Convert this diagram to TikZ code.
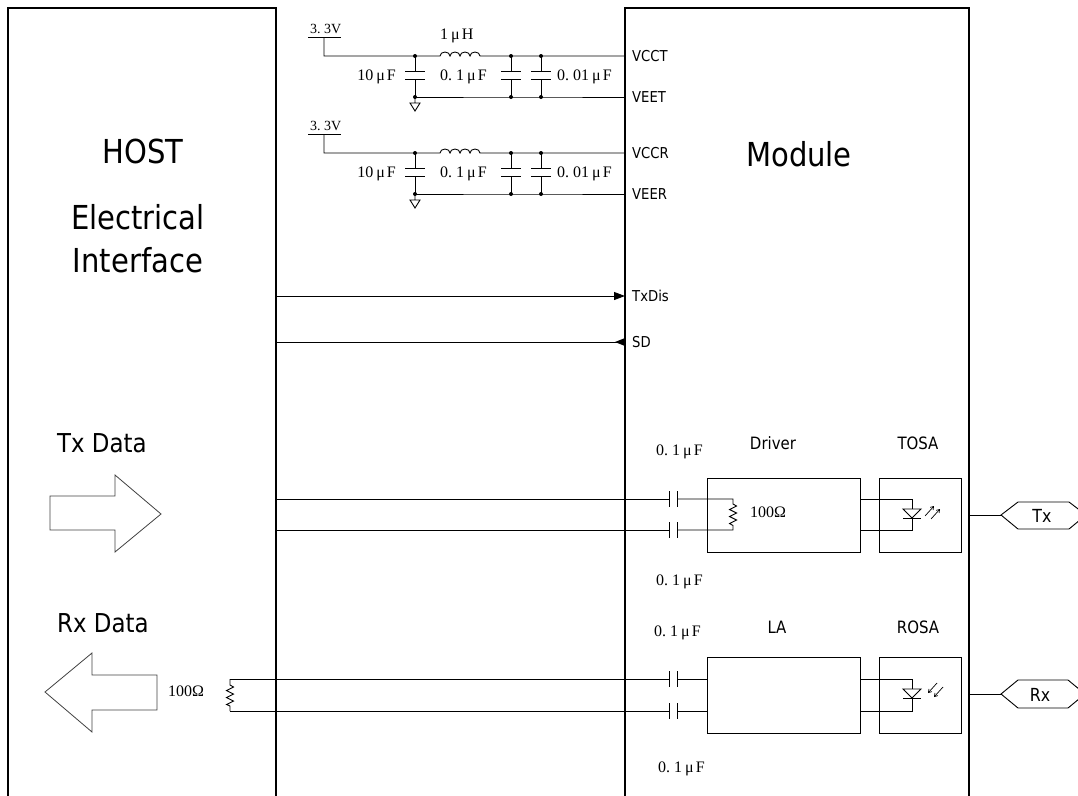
\documentclass[tikz,border=0pt]{standalone}
\usepackage{fontspec}
\setmainfont{Liberation Serif}
\newfontfamily\tah{DejaVu Sans}[FakeStretch=0.88]
\usetikzlibrary{arrows.meta}
\tikzset{
  box/.style={line width=2pt},
  wire/.style={line width=0.9pt},
  dot/.style={circle,fill,inner sep=0pt,minimum size=4pt},
  bigtxt/.style={font=\tah\fontsize{33}{36}\selectfont, anchor=base, inner sep=0pt},
  midtxt/.style={font=\tah\fontsize{26}{30}\selectfont, anchor=base west, inner sep=0pt},
  pintxt/.style={font=\tah\fontsize{15}{18}\selectfont, anchor=west, inner sep=0pt},
  blktxt/.style={font=\tah\fontsize{17}{20}\selectfont, anchor=base, inner sep=0pt},
  hextxt/.style={font=\tah\fontsize{18}{20}\selectfont, inner sep=0pt},
  val/.style={font=\fontsize{16}{18}\selectfont, anchor=base west, inner sep=0pt},
  fatarrow/.style={line width=0.8pt, draw=black!75},
  blockbox/.style={draw, line width=0.9pt, inner sep=0pt, anchor=north west},
  emit/.style={line width=0.7pt, -{Straight Barb[length=3pt,width=4pt]}},
}
\newcommand\micro{\hspace{3pt}μ\hspace{2pt}}
\newcommand\filterstage[2]{%
  \begin{scope}[yshift=#2]
  \node[val,font=\fontsize{14}{16}\selectfont] (v33#1) at (310,33) {3.~3V};
  \coordinate (ul#1) at (308,37); \coordinate (ur#1) at (341,37);
  \coordinate (vs#1) at (324,37); \coordinate (n1#1) at (324,56);
  \node[dot] (d1#1) at (415,56) {};
  \coordinate (l1#1) at (440,56); \coordinate (l2#1) at (480,56);
  \node[dot] (d2#1) at (511,56) {};
  \node[dot] (d3#1) at (541,56) {};
  \coordinate (vcc#1) at (625,56);
  \node[dot] (g1#1) at (415,97) {};
  \node[dot] (g2#1) at (511,97) {};
  \node[dot] (g3#1) at (541,97) {};
  \coordinate (vee#1) at (625,97);
  \draw[wire] (ul#1) -- (ur#1);
  \draw[wire] (vs#1) -- (n1#1) -- (d1#1.center) -- (l1#1)
     arc[start angle=180,end angle=0,x radius=5pt,y radius=4pt]
     arc[start angle=180,end angle=0,x radius=5pt,y radius=4pt]
     arc[start angle=180,end angle=0,x radius=5pt,y radius=4pt]
     arc[start angle=180,end angle=0,x radius=5pt,y radius=4pt]
     -- (d2#1.center) -- (d3#1.center) -- (vcc#1);
  \draw[wire] (g1#1.center) -- (g2#1.center) -- (g3#1.center) -- (vee#1);
  \foreach \c/\g in {d1#1/g1#1, d2#1/g2#1, d3#1/g3#1}{
    \draw[wire] (\c.center) -- ++(0,15) ++(-10,0) -- ++(20,0)
                ++(-20,8) -- ++(20,0) ++(-10,0) -- (\g.center);
  }
  \draw[wire] (g1#1.center) -- ++(0,6) ++(-5,0) -- ++(10,0) -- ++(-5,8) -- cycle;
  \node[val,anchor=base east] (c10#1) at (396,80) {10\micro F};
  \node[val] (c01#1) at (440,80) {0.~1\micro F};
  \node[val] (c001#1) at (557,80) {0.~01\micro F};
  \end{scope}}
\begin{document}
\begin{tikzpicture}[x=1pt,y=-1pt,line join=miter]
\useasboundingbox (0,0) rectangle (1078,795);
\clip (0,0) rectangle (1078,795);

% host and module frames
\coordinate (hBL) at (8,800); \coordinate (hTL) at (8,8);
\coordinate (hTR) at (276,8); \coordinate (hBR) at (276,800);
\draw[box] (hBL) -- (hTL) -- (hTR) -- (hBR);
\coordinate (mBL) at (625,800); \coordinate (mTL) at (625,8);
\coordinate (mTR) at (969,8); \coordinate (mBR) at (969,800);
\draw[box] (mBL) -- (mTL) -- (mTR) -- (mBR);

\node[bigtxt] (host) at (143,163) {HOST};
\node[bigtxt] (elec) at (138,229) {Electrical};
\node[bigtxt] (intf) at (138,272) {Interface};
\node[bigtxt] (module) at (799,166) {Module};
\node[midtxt] (txdata) at (57,452) {Tx Data};
\node[midtxt] (rxdata) at (57,632) {Rx Data};

% power filters
\filterstage{T}{0pt}
\filterstage{R}{-97pt}
\node[val] (lH) at (440,39) {1\micro H};
\node[pintxt] (vcct) at (632,56) {VCCT};
\node[pintxt] (veet) at (632,97) {VEET};
\node[pintxt] (vccr) at (632,153) {VCCR};
\node[pintxt] (veer) at (632,194) {VEER};

% TxDis / SD
\coordinate (txdA) at (276,296); \coordinate (txdB) at (625,296);
\draw[wire,-{Triangle[length=11pt,width=8pt]}] (txdA) -- (txdB);
\coordinate (sdA) at (276,342); \coordinate (sdB) at (625,342);
\draw[wire] (sdA) -- (sdB);
\fill ([yshift=4pt]sdB) -- ([yshift=-4pt]sdB) -- ([xshift=-10pt]sdB) -- cycle;
\node[pintxt] (txdis) at (632,296) {TxDis};
\node[pintxt] (sd) at (632,342) {SD};

% fat arrows
\draw[fatarrow] (50,496) -- (115,496) -- (115,475) -- (161,514) -- (115,552) -- (115,530) -- (50,530) -- cycle;
\draw[fatarrow] (157,675) -- (92,675) -- (92,653) -- (45,692) -- (92,732) -- (92,710) -- (157,710) -- cycle;

% ---- Tx path
\node[blockbox, minimum width=153pt, minimum height=74pt] (drv) at (707,478) {};
\node[blockbox, minimum width=82pt, minimum height=74pt] (tosa) at (879,478) {};
\node[blktxt] (drvl) at (773,449) {Driver};
\node[blktxt] (tosal) at (918,449) {TOSA};
\coordinate (ta1) at (276,499); \coordinate (ta2) at (276,530);
\coordinate (tc1l) at (669,499); \coordinate (tc1r) at (677,499);
\coordinate (tc2l) at (669,530); \coordinate (tc2r) at (677,530);
\draw[wire] (ta1) -- (tc1l) (ta2) -- (tc2l);
\foreach \p in {tc1l,tc1r,tc2l,tc2r}{\draw[wire] (\p) ++(0,-8) -- ++(0,16);}
\draw[wire] (tc1r) -- (733,499) -- (733,504) -- (736.5,506) -- (729.5,509.5) -- (736.5,513) -- (729.5,516.5) -- (736.5,520) -- (729.5,523.5) -- (733,525.5) -- (733,530) -- (tc2r);
\node[val] (r100t) at (750,517) {100Ω};
\node[val] (ct1) at (656,455) {0.~1\micro F};
\node[val] (ct2) at (656,585) {0.~1\micro F};
% TOSA laser
\coordinate (to1) at (860,499); \coordinate (to2) at (860,530);
\draw[wire] (to1) -- (912,499) -- (912,509) (912,518) -- (912,530) -- (to2);
\draw[wire] (903,509) -- (921,509) -- (912,518) -- cycle;
\draw[wire] (903,518) -- (921,518);
\draw[emit] (925,516) -- (934,506);
\draw[emit] (931,519) -- (940,509);
% Tx connector
\coordinate (txo) at (969,515); \coordinate (txh) at (1001,515);
\draw[wire] (txo) -- (txh);
\draw[wire] (txh) -- (1018,502) -- (1069,502) -- (1086,515) -- (1069,529) -- (1018,529) -- cycle;
\node[hextxt] (txl) at (1042,516) {Tx};

% ---- Rx path
\node[blockbox, minimum width=153pt, minimum height=76pt] (la) at (707,657) {};
\node[blockbox, minimum width=82pt, minimum height=76pt] (rosa) at (879,657) {};
\node[blktxt] (lal) at (777,633) {LA};
\node[blktxt] (rosal) at (918,633) {ROSA};
\coordinate (rh1) at (230,679); \coordinate (rh2) at (230,711);
\coordinate (rc1l) at (669,679); \coordinate (rc1r) at (677,679);
\coordinate (rc2l) at (669,711); \coordinate (rc2r) at (677,711);
\draw[wire] (rh1) -- (rc1l) (rh2) -- (rc2l);
\foreach \p in {rc1l,rc1r,rc2l,rc2r}{\draw[wire] (\p) ++(0,-8) -- ++(0,16);}
\draw[wire] (rc1r) -- (la.north west |- rc1r) (rc2r) -- (la.north west |- rc2r);
\draw[wire] (rh1) -- (230,685) -- (233.5,687) -- (226.5,690.5) -- (233.5,694) -- (226.5,697.5) -- (233.5,701) -- (226.5,704.5) -- (230,706) -- (rh2);
\node[val] (r100h) at (168,696) {100Ω};
\node[val] (cr1) at (654,636) {0.~1\micro F};
\node[val] (cr2) at (658,772) {0.~1\micro F};
% ROSA photodiode
\coordinate (ro1) at (860,679); \coordinate (ro2) at (860,711);
\draw[wire] (ro1) -- (912,679) -- (912,689) (912,698) -- (912,711) -- (ro2);
\draw[wire] (903,689) -- (921,689) -- (912,698) -- cycle;
\draw[wire] (903,698) -- (921,698);
\draw[emit] (937,683) -- (928,693);
\draw[emit] (943,687) -- (934,697);
% Rx connector
\coordinate (rxo) at (969,694); \coordinate (rxh) at (1001,694);
\draw[wire] (rxo) -- (rxh);
\draw[wire] (rxh) -- (1018,680) -- (1068,680) -- (1085,694) -- (1068,708) -- (1018,708) -- cycle;
\node[hextxt] (rxl) at (1040,695) {Rx};
\end{tikzpicture}
\end{document}
